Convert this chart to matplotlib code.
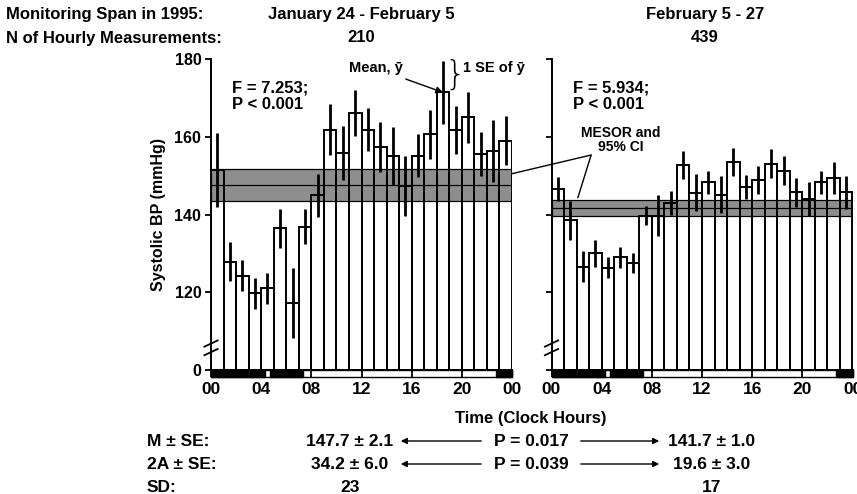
import matplotlib
matplotlib.use('Agg')
import matplotlib.pyplot as plt
from matplotlib.patches import Rectangle, ConnectionPatch, FancyArrowPatch

plt.rcParams['font.family'] = ['Liberation Sans', 'DejaVu Sans']
plt.rcParams['font.weight'] = 'bold'

# --- data ---
hours = list(range(24))
left_means = [151.4, 127.8, 124.2, 119.7, 121.0, 136.4, 117.3, 136.8, 144.9, 161.8, 155.8, 166.1,
              161.8, 157.4, 155.1, 147.3, 155.1, 160.7, 171.4, 161.8, 165.0, 155.6, 156.4, 159.0]
left_se = [9.5, 5.0, 4.0, 4.0, 4.0, 5.0, 9.0, 4.5, 5.6, 6.6, 7.0, 6.0,
           5.5, 6.5, 7.4, 7.8, 5.5, 6.3, 8.0, 6.2, 6.5, 5.6, 8.0, 6.3]
right_means = [146.6, 138.5, 126.6, 130.0, 126.3, 129.0, 127.6, 139.7, 139.7, 143.0, 152.8, 145.6,
               148.3, 145.1, 153.4, 147.1, 149.0, 153.1, 151.3, 145.7, 144.0, 148.3, 149.4, 145.7]
right_se = [3.0, 5.0, 4.0, 3.5, 2.7, 2.7, 2.6, 2.5, 5.3, 3.0, 3.6, 4.7,
            3.0, 4.8, 3.6, 3.1, 3.6, 3.8, 3.7, 3.7, 4.3, 3.0, 4.0, 4.3]
left_mesor, left_mesor_se = 147.7, 2.1
right_mesor, right_mesor_se = 141.7, 1.0
left_ci = (143.6, 151.8)
right_ci = (139.7, 143.7)
ld_dark = [(0, 4.3), (4.7, 7.3), (22.7, 24)]

yticks = [100, 120, 140, 160, 180]
ytick_labels = ['0', '120', '140', '160', '180']
xticks = [0, 4, 8, 12, 16, 20, 24]
xtick_labels = ['00', '04', '08', '12', '16', '20', '00']

W, H = 857, 494
fig = plt.figure(figsize=(W / 100, H / 100), dpi=100)


def ftext(x, y, s, **kw):
    # x, y in pixels from top-left
    fig.text(x / W, 1 - y / H, s, **kw)


def panel(x0, means, ses, mesor, ci, ftxt, ylabels):
    ax = fig.add_axes([x0 / W, 1 - 370 / H, 301 / W, 311 / H])
    ax.axhspan(ci[0], ci[1], facecolor='#8e8e8e', edgecolor='black', lw=0.9, zorder=1)
    ax.axhline(mesor, color='black', lw=0.9, zorder=1.5)
    ax.bar(hours, [m - 100 for m in means], bottom=100, width=1, align='edge',
           fill=False, edgecolor='black', lw=1.4, zorder=2)
    ax.vlines([h + 0.5 for h in hours], [m - s for m, s in zip(means, ses)],
              [m + s for m, s in zip(means, ses)], color='black', lw=2, zorder=3)
    # light/dark bar below the time axis
    ax.add_patch(Rectangle((0, 98.2), 24, 1.8, facecolor='white', edgecolor='black',
                           lw=1, clip_on=False, zorder=1))
    for a, b in ld_dark:
        ax.add_patch(Rectangle((a, 98.2), b - a, 1.8, facecolor='black', edgecolor='black',
                               lw=1, clip_on=False, zorder=1.2))
    ax.set_xlim(0, 24)
    ax.set_ylim(100, 180)
    ax.set_xticks(xticks)
    ax.set_xticklabels(xtick_labels, fontsize=12.5, fontweight='bold')
    ax.set_yticks(yticks)
    if ylabels:
        ax.set_yticklabels(ytick_labels, fontsize=11.5, fontweight='bold')
    else:
        ax.set_yticklabels([])
    ax.tick_params(axis='x', length=5, width=1.3, pad=4)
    ax.tick_params(axis='y', length=4, width=1.3, pad=3)
    for s in ['top', 'right']:
        ax.spines[s].set_visible(False)
    ax.spines['left'].set_linewidth(1.4)
    ax.spines['bottom'].set_linewidth(1.4)
    # axis break marks
    tr = ax.get_yaxis_transform()
    for v in (104.6, 106.8):
        ax.plot([-0.022, 0.022], [v - 0.8, v + 0.8], color='black', lw=1.3,
                transform=tr, clip_on=False, zorder=4)
    ax.text(0.07, 0.84, ftxt, transform=ax.transAxes, fontsize=12, fontweight='bold',
            linespacing=1.1)
    return ax


axl = panel(211, left_means, left_se, left_mesor, left_ci, 'F = 7.253;\nP < 0.001', True)
axr = panel(551.5, right_means, right_se, right_mesor, right_ci, 'F = 5.934;\nP < 0.001', False)

axl.set_ylabel('Systolic BP (mmHg)', fontsize=11.5, fontweight='bold', labelpad=6)

# mean / SE annotations
axl.annotate('Mean, ȳ', xy=(18.5, left_means[18]), xytext=(15.3, 177.6),
             ha='right', va='center', fontsize=10.5, fontweight='bold',
             arrowprops=dict(arrowstyle='-|>', color='black', lw=1, mutation_scale=10,
                             shrinkA=2, shrinkB=0))
axl.text(18.6, left_means[18] + left_se[18] / 2 + 0.3, '}', ha='left', va='center', fontsize=24,
         fontweight='light', family='DejaVu Sans')
axl.text(20.1, 177.8, '1 SE of ȳ', ha='left', va='center', fontsize=10.5, fontweight='bold')

# MESOR callout
axr.text(5.5, 159.2, 'MESOR and\n95% CI', ha='center', va='center', fontsize=10,
         fontweight='bold', linespacing=1.0)
apex = (3.16, 155.3)
fig.add_artist(ConnectionPatch(xyA=(24, 150.5), coordsA=axl.transData, xyB=apex,
                               coordsB=axr.transData, color='black', lw=1))
fig.add_artist(ConnectionPatch(xyA=(2.1, right_ci[1] + 0.6), coordsA=axr.transData, xyB=apex,
                               coordsB=axr.transData, color='black', lw=1))

# header
hs = 12
ftext(6, 15, 'Monitoring Span in 1995:', fontsize=hs, va='center')
ftext(6, 38, 'N of Hourly Measurements:', fontsize=hs, va='center')
ftext(361, 15, 'January 24 - February 5', fontsize=hs, va='center', ha='center')
ftext(361, 38, '210', fontsize=hs, va='center', ha='center')
ftext(705, 15, 'February 5 - 27', fontsize=hs, va='center', ha='center')
ftext(705, 38, '439', fontsize=hs, va='center', ha='center')

# bottom summary
bs = 12.5
ftext(531, 418, 'Time (Clock Hours)', fontsize=12, va='center', ha='center')
rows = [
    ('M ± SE:', f'{left_mesor} ± {left_mesor_se}', 'P = 0.017', f'{right_mesor} ± {right_mesor_se}'),
    ('2A ± SE:', '34.2 ± 6.0', 'P = 0.039', '19.6 ± 3.0'),
    ('SD:', '23', None, '17'),
]
for i, (lab, lv, p, rv) in enumerate(rows):
    y = 441 + 23 * i
    ftext(147, y, lab, fontsize=bs, va='center')
    ftext(350, y, lv, fontsize=bs, va='center', ha='center')
    ftext(712, y, rv, fontsize=bs, va='center', ha='center')
    if p:
        ftext(531, y, p, fontsize=bs, va='center', ha='center')
        fig.add_artist(FancyArrowPatch(
            (484 / W, 1 - y / H), (398 / W, 1 - y / H), transform=fig.transFigure,
            arrowstyle='-|>', mutation_scale=9, color='black', lw=1))
        fig.add_artist(FancyArrowPatch(
            (578 / W, 1 - y / H), (662 / W, 1 - y / H), transform=fig.transFigure,
            arrowstyle='-|>', mutation_scale=9, color='black', lw=1))

fig.savefig('out.png', dpi=100)
